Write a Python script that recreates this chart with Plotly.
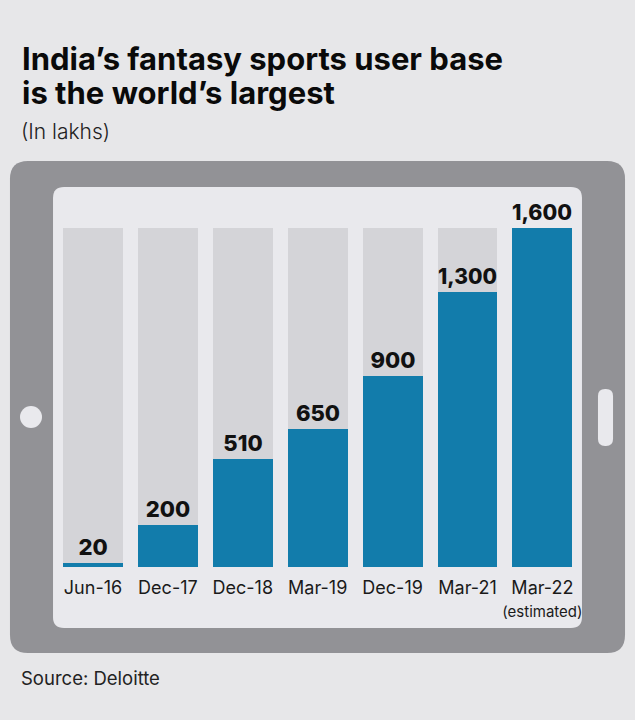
import plotly.graph_objects as go

W, H = 635, 720

periods = ["Jun-16", "Dec-17", "Dec-18", "Mar-19", "Dec-19", "Mar-21", "Mar-22"]
tick_labels = ["Jun-16", "Dec-17", "Dec-18", "Mar-19", "Dec-19", "Mar-21",
               "Mar-22<br><span style='font-size:15px'>(estimated)</span>"]
users = [20, 200, 510, 650, 900, 1300, 1600]
full_scale = [1600] * len(periods)

BLUE = "#127cab"
TRACK = "#d4d4d8"
FRAME = "#929296"
SCREEN = "#e9e9ed"
PAGE = "#e7e7e9"
FONT = "Inter"


def px(x, y):
    # pixel (from top-left) -> paper fraction
    return x / W, 1 - y / H


def rounded_rect(x0, y0, x1, y1, r):
    pts = []
    a = px(x0 + r, y0); pts.append("M%.4f,%.4f" % a)
    b = px(x1 - r, y0); pts.append("L%.4f,%.4f" % b)
    c, d = px(x1, y0), px(x1, y0 + r); pts.append("Q%.4f,%.4f %.4f,%.4f" % (*c, *d))
    e = px(x1, y1 - r); pts.append("L%.4f,%.4f" % e)
    f, g = px(x1, y1), px(x1 - r, y1); pts.append("Q%.4f,%.4f %.4f,%.4f" % (*f, *g))
    h = px(x0 + r, y1); pts.append("L%.4f,%.4f" % h)
    i, j = px(x0, y1), px(x0, y1 - r); pts.append("Q%.4f,%.4f %.4f,%.4f" % (*i, *j))
    k = px(x0, y0 + r); pts.append("L%.4f,%.4f" % k)
    m, n = px(x0, y0), px(x0 + r, y0); pts.append("Q%.4f,%.4f %.4f,%.4f" % (*m, *n))
    pts.append("Z")
    return " ".join(pts)


fig = go.Figure()

fig.add_trace(go.Bar(
    x=periods, y=full_scale, width=0.8,
    marker=dict(color=TRACK, line_width=0),
    hoverinfo="skip", showlegend=False,
))
fig.add_trace(go.Bar(
    x=periods, y=users, width=0.8,
    marker=dict(color=BLUE, line_width=0),
    text=users, texttemplate="%{y:,}", textposition="outside",
    textfont=dict(family=FONT, size=22, color="#111111", weight=800),
    cliponaxis=False, showlegend=False,
))

shapes = [
    dict(type="path", path=rounded_rect(10, 161, 625, 653, 18),
         fillcolor=FRAME, line_width=0),
    dict(type="path", path=rounded_rect(53, 187, 582, 628, 11),
         fillcolor=SCREEN, line_width=0),
    dict(type="circle", x0=20 / W, x1=42 / W, y0=1 - 428 / H, y1=1 - 406 / H,
         fillcolor=SCREEN, line_width=0),
    dict(type="path", path=rounded_rect(598, 389, 613, 446, 7),
         fillcolor=SCREEN, line_width=0),
]
for s in shapes:
    s.update(xref="paper", yref="paper", layer="below")

# two title lines in tight boxes so the line pitch matches the reference
title_font = dict(family=FONT, size=31, color="#0a0a0a", weight=700)
annotations = [
    dict(text="India’s fantasy sports user base", x=20 / W, y=1 - 42 / H,
         height=33, valign="bottom",
         xanchor="left", yanchor="top", font=title_font, showarrow=False),
    dict(text="is the world’s largest", x=20 / W, y=1 - 76 / H,
         height=33, valign="bottom",
         xanchor="left", yanchor="top", font=title_font, showarrow=False),
    dict(text="(In lakhs)", x=19 / W, y=1 - 117 / H, xanchor="left", yanchor="top",
         font=dict(family=FONT, size=21, color="#222222", weight=300), showarrow=False),
    dict(text="Source: Deloitte", x=19 / W, y=1 - 665 / H, xanchor="left", yanchor="top",
         font=dict(family=FONT, size=18.5, color="#222222"), showarrow=False),
]
for a in annotations:
    a.update(xref="paper", yref="paper")

# 0 -> pixel 567, 1600 -> pixel 228
k = (567 - 228) / 1600
fig.update_layout(
    width=W, height=H,
    margin=dict(l=0, r=0, t=0, b=0, pad=0),
    paper_bgcolor=PAGE, plot_bgcolor="rgba(0,0,0,0)",
    barmode="overlay", bargap=0,
    shapes=shapes, annotations=annotations,
    xaxis=dict(
        type="category", range=[-93 / 74.9, (W - 93) / 74.9],
        tickvals=periods, ticktext=tick_labels,
        anchor="free", position=(H - 567) / H,
        showgrid=False, zeroline=False, showline=False,
        ticks="outside", ticklen=4, tickcolor="rgba(0,0,0,0)",
        tickfont=dict(family=FONT, size=18, color="#1a1a1a"),
    ),
    yaxis=dict(range=[-(H - 567) / k, 567 / k], visible=False, fixedrange=True),
    font=dict(family=FONT),
)

fig.write_html("out.html", config={"displayModeBar": False},
               post_script="document.body.style.margin='0';")
